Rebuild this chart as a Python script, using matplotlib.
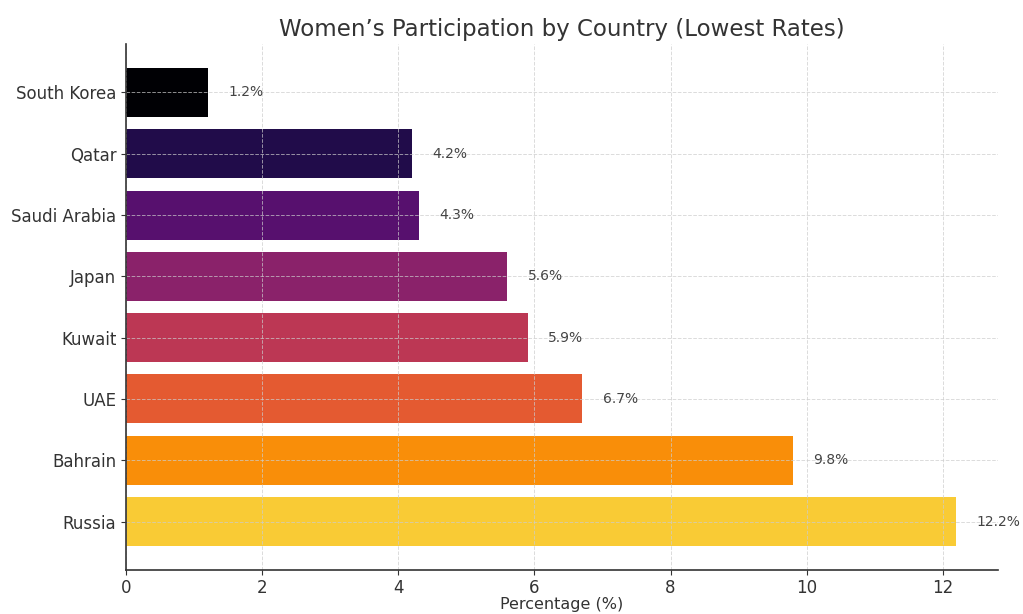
import numpy as np
import matplotlib
matplotlib.use("Agg")
import matplotlib.pyplot as plt

# Data (lowest rates first)
countries = ["South Korea", "Qatar", "Saudi Arabia", "Japan", "Kuwait", "UAE", "Bahrain", "Russia"]
rates = [1.2, 4.2, 4.3, 5.6, 5.9, 6.7, 9.8, 12.2]

colors = plt.cm.inferno(np.arange(len(countries)) / len(countries))

fig = plt.figure(figsize=(10.23, 6.14), dpi=100)
ax = fig.add_axes([126 / 1023, 44 / 614, (998 - 126) / 1023, (570 - 44) / 614])

ax.barh(countries, rates, color=colors, height=0.8)
ax.invert_yaxis()
ax.set_xlim(0, max(rates) * 1.05)

for i, v in enumerate(rates):
    ax.text(v + 0.3, i, f"{v}%", va="center", ha="left", fontsize=10, color="#444444")

ax.grid(True, linestyle="--", color="#cccccc", linewidth=0.7, alpha=0.7)
ax.spines["top"].set_visible(False)
ax.spines["right"].set_visible(False)
for s in ["left", "bottom"]:
    ax.spines[s].set_color("#333333")
    ax.spines[s].set_linewidth(1.2)

ax.tick_params(axis="both", labelsize=12, colors="#333333")
ax.tick_params(axis="x", pad=3)
ax.set_xlabel("Percentage (%)", fontsize=11.5, color="#333333", labelpad=0)
ax.set_title("Women\u2019s Participation by Country (Lowest Rates)", fontsize=16.5, color="#333333", pad=6)

fig.savefig("out.png", dpi=100)
